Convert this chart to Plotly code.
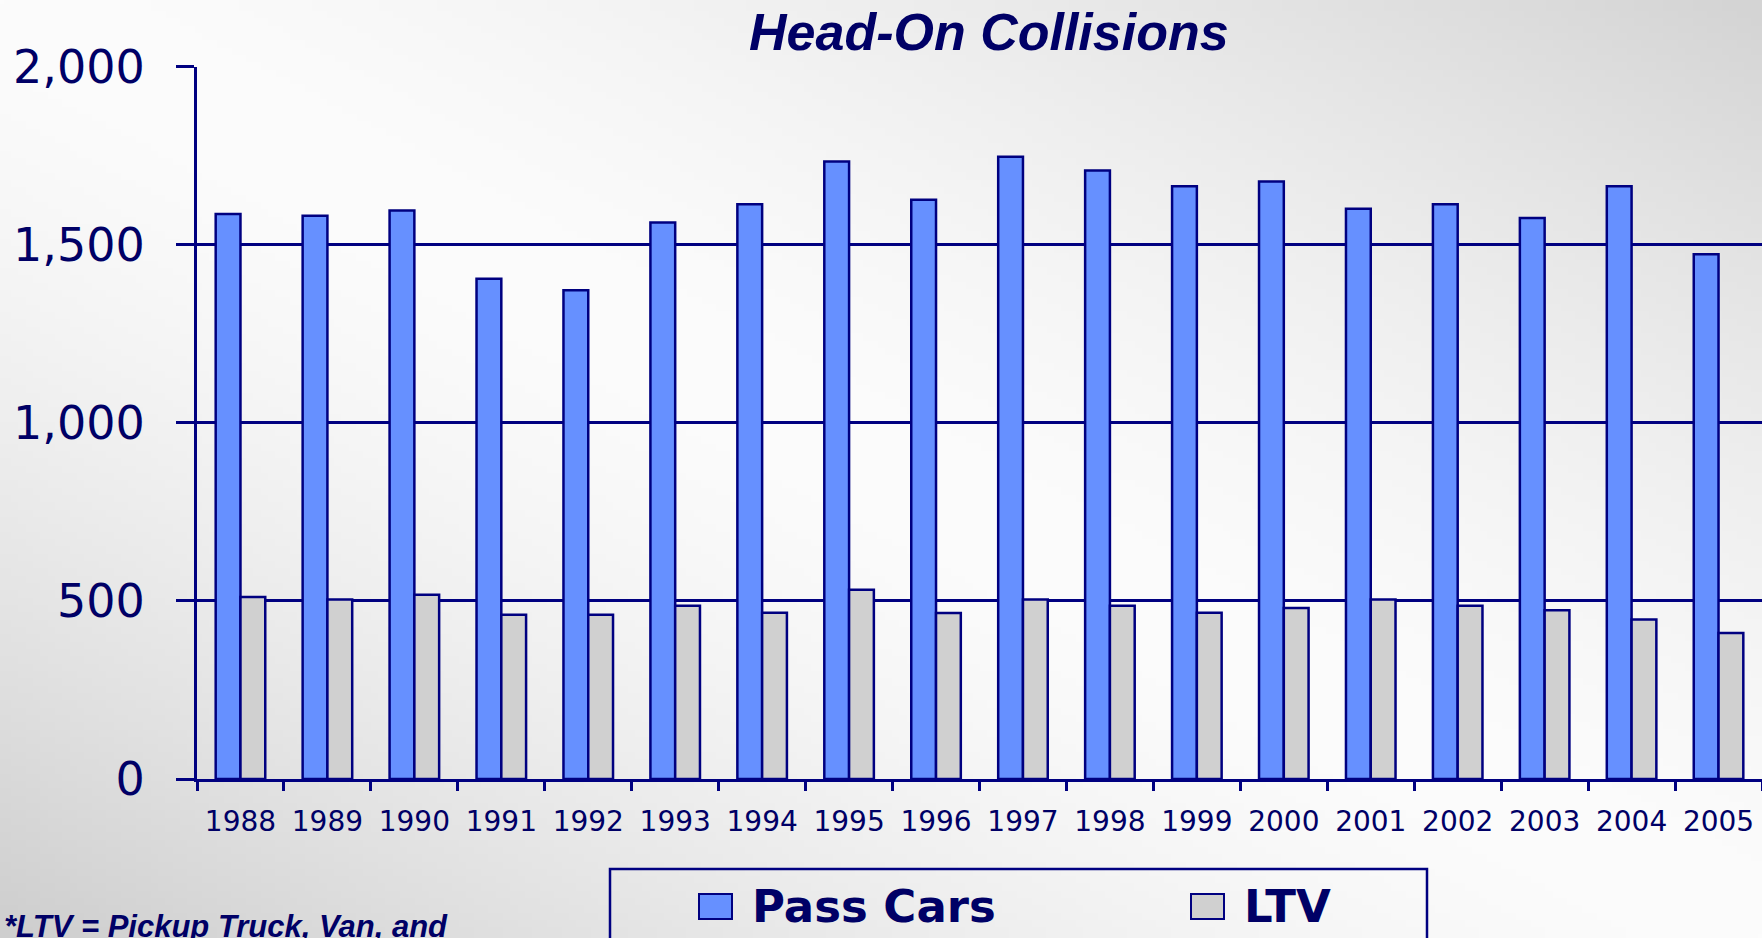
import base64
import struct
import zlib

import numpy as np
import plotly.graph_objects as go

# ---------------- data ----------------
years = ["1988", "1989", "1990", "1991", "1992", "1993", "1994", "1995", "1996",
         "1997", "1998", "1999", "2000", "2001", "2002", "2003", "2004", "2005"]
pass_cars = [1586, 1581, 1596, 1404, 1372, 1562, 1613, 1733, 1626,
             1747, 1708, 1664, 1677, 1601, 1613, 1575, 1664, 1473]
ltv = [511, 504, 517, 461, 461, 486, 467, 531, 466,
       504, 486, 467, 480, 504, 486, 474, 448, 410]
series_names = ["Pass Cars", "LTV"]
y_ticks = [0, 500, 1000, 1500, 2000]
title_text = "Head-On Collisions"
footnote_text = "*LTV = Pickup Truck, Van, and"

# ---------------- style ----------------
W, H = 1762, 938
NAVY = "#000080"
TEXT = "#000066"
BLUE = "#6690FF"
GRAY = "#D0D0D0"


def px_x(x):
    return x / W


def px_y(y):
    return 1 - y / H


# background gradient image (light along the TL-BR diagonal, grey at the other corners)
gw, gh = 240, 128
u = np.linspace(0, 1, gw)[None, :]
v = np.linspace(0, 1, gh)[:, None]
d = v - u
val = np.where(d > 0, 252 - 46 * np.abs(d) ** 1.5, 252 - 40 * np.abs(d) ** 1.5)
img = np.clip(val, 0, 255).astype(np.uint8)
rgb = np.stack([img, img, img], axis=2)


def to_png(arr):
    h, w, _ = arr.shape
    raw = b"".join(b"\x00" + arr[i].tobytes() for i in range(h))

    def chunk(tag, data):
        c = struct.pack(">I", len(data)) + tag + data
        return c + struct.pack(">I", zlib.crc32(tag + data) & 0xFFFFFFFF)

    return (b"\x89PNG\r\n\x1a\n"
            + chunk(b"IHDR", struct.pack(">IIBBBBB", w, h, 8, 2, 0, 0, 0))
            + chunk(b"IDAT", zlib.compress(raw, 9))
            + chunk(b"IEND", b""))


bg_src = "data:image/png;base64," + base64.b64encode(to_png(rgb)).decode()

fig = go.Figure()
fig.add_trace(go.Bar(x=years, y=pass_cars, name=series_names[0],
                     marker=dict(color=BLUE, line=dict(color=NAVY, width=2.5))))
fig.add_trace(go.Bar(x=years, y=ltv, name=series_names[1],
                     marker=dict(color=GRAY, line=dict(color=NAVY, width=2.5))))

fig.update_layout(
    width=W, height=H,
    margin=dict(l=0, r=0, t=0, b=0, autoexpand=False),
    paper_bgcolor="rgba(0,0,0,0)",
    plot_bgcolor="rgba(0,0,0,0)",
    barmode="group",
    bargap=0.43,
    bargroupgap=0.0,
    showlegend=False,
    images=[dict(source=bg_src, xref="paper", yref="paper", x=0, y=1,
                 sizex=1, sizey=1, xanchor="left", yanchor="top",
                 sizing="stretch", layer="below")],
    xaxis=dict(
        domain=[px_x(197), 1.0],
        type="category",
        automargin=False,
        tickson="boundaries",
        ticks="outside", ticklen=9, tickwidth=2.5, tickcolor=NAVY,
        showline=True, linecolor=NAVY, linewidth=3,
        showgrid=False, zeroline=False,
        tickfont=dict(family="DejaVu Sans", size=28, color=TEXT),
        ticklabelstandoff=15,
    ),
    yaxis=dict(
        domain=[px_y(779), px_y(66.5)],
        range=[0, 2000],
        automargin=False,
        tickvals=y_ticks, tickformat=",",
        ticks="outside", ticklen=18, tickwidth=2.5, tickcolor=NAVY,
        showline=True, linecolor=NAVY, linewidth=3,
        showgrid=True, gridcolor=NAVY, gridwidth=2.5,
        zeroline=False,
        tickfont=dict(family="DejaVu Sans", size=46, color=TEXT),
        ticklabelstandoff=22,
    ),
)

annotations = [
    dict(text="<b><i>" + title_text + "</i></b>", x=px_x(989), y=px_y(32),
         xref="paper", yref="paper", xanchor="center", yanchor="middle",
         showarrow=False, font=dict(family="Arial", size=52, color=TEXT)),
    dict(text="<b><i>" + footnote_text + "</i></b>", x=px_x(2), y=px_y(926),
         xref="paper", yref="paper", xanchor="left", yanchor="middle",
         showarrow=False, font=dict(family="Arial", size=31, color=TEXT)),
]

# legend (drawn manually to match the large swatches of the original)
shapes = [dict(type="rect", xref="paper", yref="paper",
               x0=px_x(610), x1=px_x(1427), y0=px_y(869), y1=px_y(990),
               line=dict(color=NAVY, width=2.5), fillcolor="rgba(0,0,0,0)")]
legend_items = [(series_names[0], BLUE, 699, 750), (series_names[1], GRAY, 1191, 1242)]
for name, col, sx, tx in legend_items:
    shapes.append(dict(type="rect", xref="paper", yref="paper",
                       x0=px_x(sx), x1=px_x(sx + 33), y0=px_y(919), y1=px_y(894),
                       line=dict(color=NAVY, width=2), fillcolor=col))
    annotations.append(dict(text="<b>" + name + "</b>", x=px_x(tx), y=px_y(906),
                            xref="paper", yref="paper", xanchor="left", yanchor="middle",
                            showarrow=False,
                            font=dict(family="DejaVu Sans", size=45, color=TEXT)))

fig.update_layout(annotations=annotations, shapes=shapes)
fig.write_html("out.html",
               config={"displayModeBar": False},
               post_script="document.body.style.margin='0px';"
                           "document.body.style.overflow='hidden';")
